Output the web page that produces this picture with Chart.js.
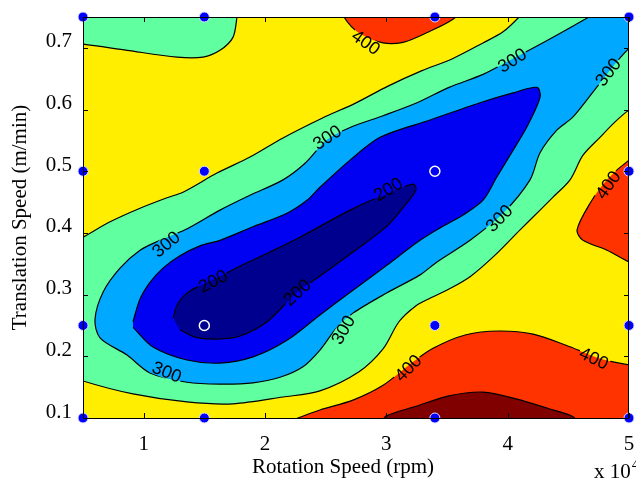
<!DOCTYPE html>
<html>
<head>
<meta charset="utf-8">
<script src="https://cdn.jsdelivr.net/npm/chart.js@4.4.1/dist/chart.umd.min.js"></script>
<style>
  html, body { margin: 0; padding: 0; background: #fff; }
</style>
</head>
<body>
<canvas id="contourChart" width="636" height="479"></canvas>
<script>
// axis ticks (rotation speed in 10^4 rpm, translation speed in m/min)
const rpmTicks = [1, 2, 3, 4, 5];
const speedTicks = [0.1, 0.2, 0.3, 0.4, 0.5, 0.6, 0.7];

// measured sample points
const samplePoints = [[0.5, 0.1], [1.5, 0.1], [3.4, 0.1], [5, 0.1], [0.5, 0.25], [3.4, 0.25], [5, 0.25],
  [0.5, 0.5], [1.5, 0.5], [5, 0.5], [0.5, 0.75], [1.5, 0.75], [3.4, 0.75], [5, 0.75]];
const openPoints = [[1.5, 0.25], [3.4, 0.5]];

// contour regions, outlines (points just outside the axes get clipped)
const below350Corner = [[0.4, 0.78], [0.4, 0.707], [0.5, 0.706], [0.863, 0.696], [1.275, 0.685], [1.489, 0.685],
  [1.629, 0.696], [1.736, 0.717], [1.769, 0.75], [1.777, 0.77]];

const below350Band = [[0.4, 0.383], [0.5, 0.393], [0.723, 0.418], [0.970, 0.440], [1.192, 0.457], [1.324, 0.466],
  [1.604, 0.497], [1.876, 0.523], [2.148, 0.554], [2.470, 0.586], [2.742, 0.610], [3.014, 0.638], [3.294, 0.663],
  [3.541, 0.682], [3.797, 0.708], [3.962, 0.726], [4.094, 0.75], [4.18, 0.77], [5.2, 0.78], [5.2, 0.62],
  [5.0, 0.599], [4.885, 0.580], [4.761, 0.555], [4.621, 0.526], [4.514, 0.486], [4.374, 0.458], [4.267, 0.437],
  [4.102, 0.405], [3.896, 0.364], [3.690, 0.329], [3.517, 0.309], [3.360, 0.294], [3.245, 0.282], [3.104, 0.256],
  [2.973, 0.212], [2.775, 0.175], [2.453, 0.144], [2.148, 0.134], [1.736, 0.123], [1.357, 0.126], [0.912, 0.139],
  [0.5, 0.160], [0.4, 0.17]];

const below300Band = [[4.72, 0.77], [5.2, 0.78], [5.2, 0.72], [5.0, 0.699], [4.761, 0.643], [4.539, 0.588],
  [4.407, 0.567], [4.267, 0.530], [4.184, 0.486], [3.962, 0.432], [3.690, 0.388], [3.418, 0.353], [3.278, 0.332],
  [3.006, 0.303], [2.725, 0.270], [2.593, 0.247], [2.453, 0.210], [2.313, 0.183], [2.124, 0.166], [1.901, 0.157],
  [1.629, 0.155], [1.357, 0.158], [1.052, 0.173], [0.863, 0.202], [0.640, 0.230], [0.599, 0.260], [0.665, 0.304],
  [0.805, 0.343], [0.970, 0.372], [1.135, 0.388], [1.341, 0.405], [1.629, 0.437], [1.876, 0.461], [2.148, 0.486],
  [2.330, 0.513], [2.511, 0.551], [2.701, 0.571], [2.973, 0.590], [3.253, 0.611], [3.517, 0.636], [3.797, 0.657],
  [4.019, 0.680], [4.176, 0.696], [4.481, 0.729], [4.670, 0.75]];

const below250Core = [[0.912, 0.256], [0.970, 0.293], [1.052, 0.320], [1.159, 0.343], [1.299, 0.363], [1.464, 0.379],
  [1.629, 0.388], [1.901, 0.410], [2.181, 0.432], [2.346, 0.453], [2.453, 0.474], [2.701, 0.518], [2.948, 0.555],
  [3.360, 0.583], [3.772, 0.611], [4.044, 0.627], [4.242, 0.636], [4.267, 0.620], [4.159, 0.572], [3.995, 0.518],
  [3.912, 0.491], [3.797, 0.453], [3.632, 0.429], [3.442, 0.408], [3.278, 0.388], [3.006, 0.348], [2.725, 0.307],
  [2.453, 0.267], [2.181, 0.226], [1.901, 0.199], [1.629, 0.189], [1.357, 0.194], [1.077, 0.215], [0.912, 0.247]];

const below200Core = [[1.242, 0.262], [1.283, 0.286], [1.382, 0.306], [1.571, 0.324], [1.794, 0.346], [2.041, 0.369],
  [2.288, 0.393], [2.701, 0.437], [2.973, 0.461], [3.220, 0.479], [3.245, 0.470], [3.154, 0.445], [3.006, 0.411],
  [2.725, 0.369], [2.453, 0.330], [2.264, 0.304], [2.017, 0.256], [1.794, 0.233], [1.604, 0.228], [1.423, 0.231],
  [1.299, 0.243]];

const above400Top = [[2.63, 0.77], [2.651, 0.75], [2.775, 0.724], [2.973, 0.708], [3.137, 0.709], [3.327, 0.724],
  [3.574, 0.75], [3.6, 0.77]];
const above400Bottom = [[2.1, 0.085], [2.272, 0.10], [2.453, 0.113], [2.725, 0.129], [2.973, 0.153], [3.187, 0.186],
  [3.385, 0.213], [3.657, 0.235], [3.929, 0.241], [4.209, 0.236], [4.481, 0.218], [4.753, 0.197], [5.0, 0.186],
  [5.2, 0.183], [5.2, 0.08]];
const above400Right = [[5.2, 0.54], [5.0, 0.518], [4.819, 0.486], [4.679, 0.448], [4.572, 0.405], [4.621, 0.388],
  [4.819, 0.372], [5.0, 0.353], [5.2, 0.34]];
const above450Bottom = [[2.95, 0.088], [2.997, 0.103], [3.245, 0.119], [3.517, 0.136], [3.797, 0.142], [4.069, 0.131],
  [4.341, 0.115], [4.539, 0.102], [4.6, 0.088]];

// contour level labels
const contourLabels = [
  { text: '400', x: 2.833, y: 0.709, angle: 35 },
  { text: '300', x: 4.036, y: 0.680, angle: -32 },
  { text: '300', x: 4.827, y: 0.661, angle: -52 },
  { text: '300', x: 2.511, y: 0.555, angle: -33 },
  { text: '300', x: 1.184, y: 0.382, angle: -40 },
  { text: '200', x: 3.014, y: 0.471, angle: -30 },
  { text: '200', x: 1.571, y: 0.322, angle: -28 },
  { text: '200', x: 2.264, y: 0.304, angle: -42 },
  { text: '300', x: 1.192, y: 0.175, angle: 22 },
  { text: '300', x: 2.643, y: 0.243, angle: -60 },
  { text: '300', x: 3.929, y: 0.424, angle: -45 },
  { text: '400', x: 3.179, y: 0.181, angle: -45 },
  { text: '400', x: 4.712, y: 0.197, angle: 25 },
  { text: '400', x: 4.827, y: 0.478, angle: -55 }
];

const baseColor = '#FFEE00'; // 350 - 400
const regions = [
  { pts: below350Corner, color: '#60FF9F' },
  { pts: below350Band, color: '#60FF9F' },
  { pts: below300Band, color: '#00A8FF' },
  { pts: below250Core, color: '#0000F2' },
  { pts: below200Core, color: '#00008F' },
  { pts: above400Top, color: '#FF3300' },
  { pts: above400Bottom, color: '#FF3300' },
  { pts: above400Right, color: '#FF3300' },
  { pts: above450Bottom, color: '#800000' }
];

const toXY = arr => arr.map(p => ({ x: p[0], y: p[1] }));
const serif = 'Liberation Serif, Times New Roman, serif';
const labelFont = '18px Liberation Sans, Arial, sans-serif';

// paint order: fills, then contour lines, then sample points
const paint = [];
regions.forEach(r => paint.push({
  data: toXY(r.pts), fill: 'shape', backgroundColor: r.color, borderWidth: 0, pointRadius: 0, tension: 0.3
}));
regions.forEach(r => paint.push({
  data: toXY(r.pts), fill: false, borderColor: '#000', borderWidth: 1.2, pointRadius: 0, tension: 0.3, contourLine: true
}));
paint.push({
  data: toXY(samplePoints), showLine: false, pointRadius: 5, pointBackgroundColor: '#0000FF',
  pointBorderColor: '#DDDDFF', pointBorderWidth: 1, clip: false
});
paint.push({
  data: toXY(openPoints), showLine: false, pointRadius: 5, pointBackgroundColor: 'rgba(0,0,0,0)',
  pointBorderColor: '#FFFFFF', pointBorderWidth: 1.5, clip: false
});
paint.forEach((d, i) => { d.order = paint.length - i; });

function labelBoxes(chart) {
  const { ctx, scales: { x, y } } = chart;
  ctx.save();
  ctx.font = labelFont;
  const boxes = contourLabels.map(l => ({
    cx: x.getPixelForValue(l.x), cy: y.getPixelForValue(l.y),
    w: ctx.measureText(l.text).width + 2, h: 14, a: l.angle * Math.PI / 180, text: l.text
  }));
  ctx.restore();
  return boxes;
}

const contourExtras = {
  id: 'contourExtras',
  beforeDatasetsDraw(chart) {
    const { ctx, chartArea: a } = chart;
    ctx.save();
    ctx.fillStyle = baseColor;
    ctx.fillRect(a.left, a.top, a.width, a.height);
    ctx.restore();
  },
  beforeDatasetDraw(chart, args) {
    if (!chart.data.datasets[args.index].contourLine) return;
    const { ctx, chartArea: a } = chart;
    ctx.save();
    ctx.beginPath();
    ctx.rect(a.left - 2, a.top - 2, a.width + 4, a.height + 4);
    labelBoxes(chart).forEach(b => {
      const c = Math.cos(b.a), s = Math.sin(b.a);
      const corners = [[-b.w / 2, -b.h / 2], [b.w / 2, -b.h / 2], [b.w / 2, b.h / 2], [-b.w / 2, b.h / 2]];
      corners.forEach((p, k) => {
        const px = b.cx + p[0] * c - p[1] * s;
        const py = b.cy + p[0] * s + p[1] * c;
        if (k === 0) ctx.moveTo(px, py); else ctx.lineTo(px, py);
      });
      ctx.closePath();
    });
    ctx.clip('evenodd');
  },
  afterDatasetDraw(chart, args) {
    if (chart.data.datasets[args.index].contourLine) chart.ctx.restore();
  },
  afterDraw(chart) {
    const { ctx, chartArea: a, scales: { x, y } } = chart;
    ctx.save();
    // contour labels
    ctx.font = labelFont;
    ctx.fillStyle = '#000';
    ctx.textAlign = 'center';
    ctx.textBaseline = 'middle';
    labelBoxes(chart).forEach(b => {
      ctx.save();
      ctx.translate(b.cx, b.cy);
      ctx.rotate(b.a);
      ctx.fillText(b.text, 0, 1);
      ctx.restore();
    });
    // axes box with inward ticks
    ctx.strokeStyle = '#000';
    ctx.lineWidth = 1;
    ctx.strokeRect(a.left + 0.5, a.top + 0.5, a.width - 1, a.height);
    ctx.beginPath();
    rpmTicks.forEach(v => {
      const px = Math.round(x.getPixelForValue(v)) + 0.5;
      ctx.moveTo(px, a.bottom); ctx.lineTo(px, a.bottom - 5);
      ctx.moveTo(px, a.top); ctx.lineTo(px, a.top + 5);
    });
    speedTicks.forEach(v => {
      const py = Math.round(y.getPixelForValue(v)) + 0.5;
      ctx.moveTo(a.left, py); ctx.lineTo(a.left + 5, py);
      ctx.moveTo(a.right, py); ctx.lineTo(a.right - 5, py);
    });
    ctx.stroke();
    // x title and exponent note
    ctx.font = '21px ' + serif;
    ctx.textAlign = 'center';
    ctx.textBaseline = 'alphabetic';
    ctx.fillText('Rotation Speed (rpm)', 343, 473);
    ctx.textAlign = 'left';
    ctx.fillText('x 10', 594, 478);
    const w = ctx.measureText('x 10').width;
    ctx.font = '15px ' + serif;
    ctx.fillText('4', 594 + w + 1, 469);
    ctx.restore();
  }
};

new Chart(document.getElementById('contourChart'), {
  type: 'line',
  data: { datasets: paint },
  options: {
    responsive: false,
    animation: false,
    events: [],
    layout: { padding: { top: 17, right: 7, left: 0, bottom: 0 } },
    elements: { line: { capBezierPoints: false } },
    plugins: { legend: { display: false }, tooltip: { enabled: false } },
    scales: {
      x: {
        type: 'linear', min: 0.5, max: 5,
        grid: { display: false, drawTicks: false, tickLength: 0 }, border: { display: false },
        afterBuildTicks: s => { s.ticks = rpmTicks.map(v => ({ value: v })); },
        afterFit: s => { s.height = 61; s.paddingLeft = 0; s.paddingRight = 0; },
        ticks: { color: '#000', font: { family: serif, size: 21 }, padding: 14, callback: v => String(v) }
      },
      y: {
        type: 'linear', min: 0.1, max: 0.75,
        grid: { display: false, drawTicks: false, tickLength: 0 }, border: { display: false },
        afterBuildTicks: s => { s.ticks = speedTicks.map(v => ({ value: v })); },
        afterFit: s => { s.width = 83; s.paddingTop = 0; s.paddingBottom = 0; },
        ticks: { color: '#000', font: { family: serif, size: 21 }, padding: 11, labelOffset: -6,
          callback: v => Number(v).toFixed(1) },
        title: { display: true, text: 'Translation Speed (m/min)', color: '#000',
          font: { family: serif, size: 21 }, padding: { top: 8, bottom: 0 } }
      }
    }
  },
  plugins: [contourExtras]
});
</script>
</body>
</html>
